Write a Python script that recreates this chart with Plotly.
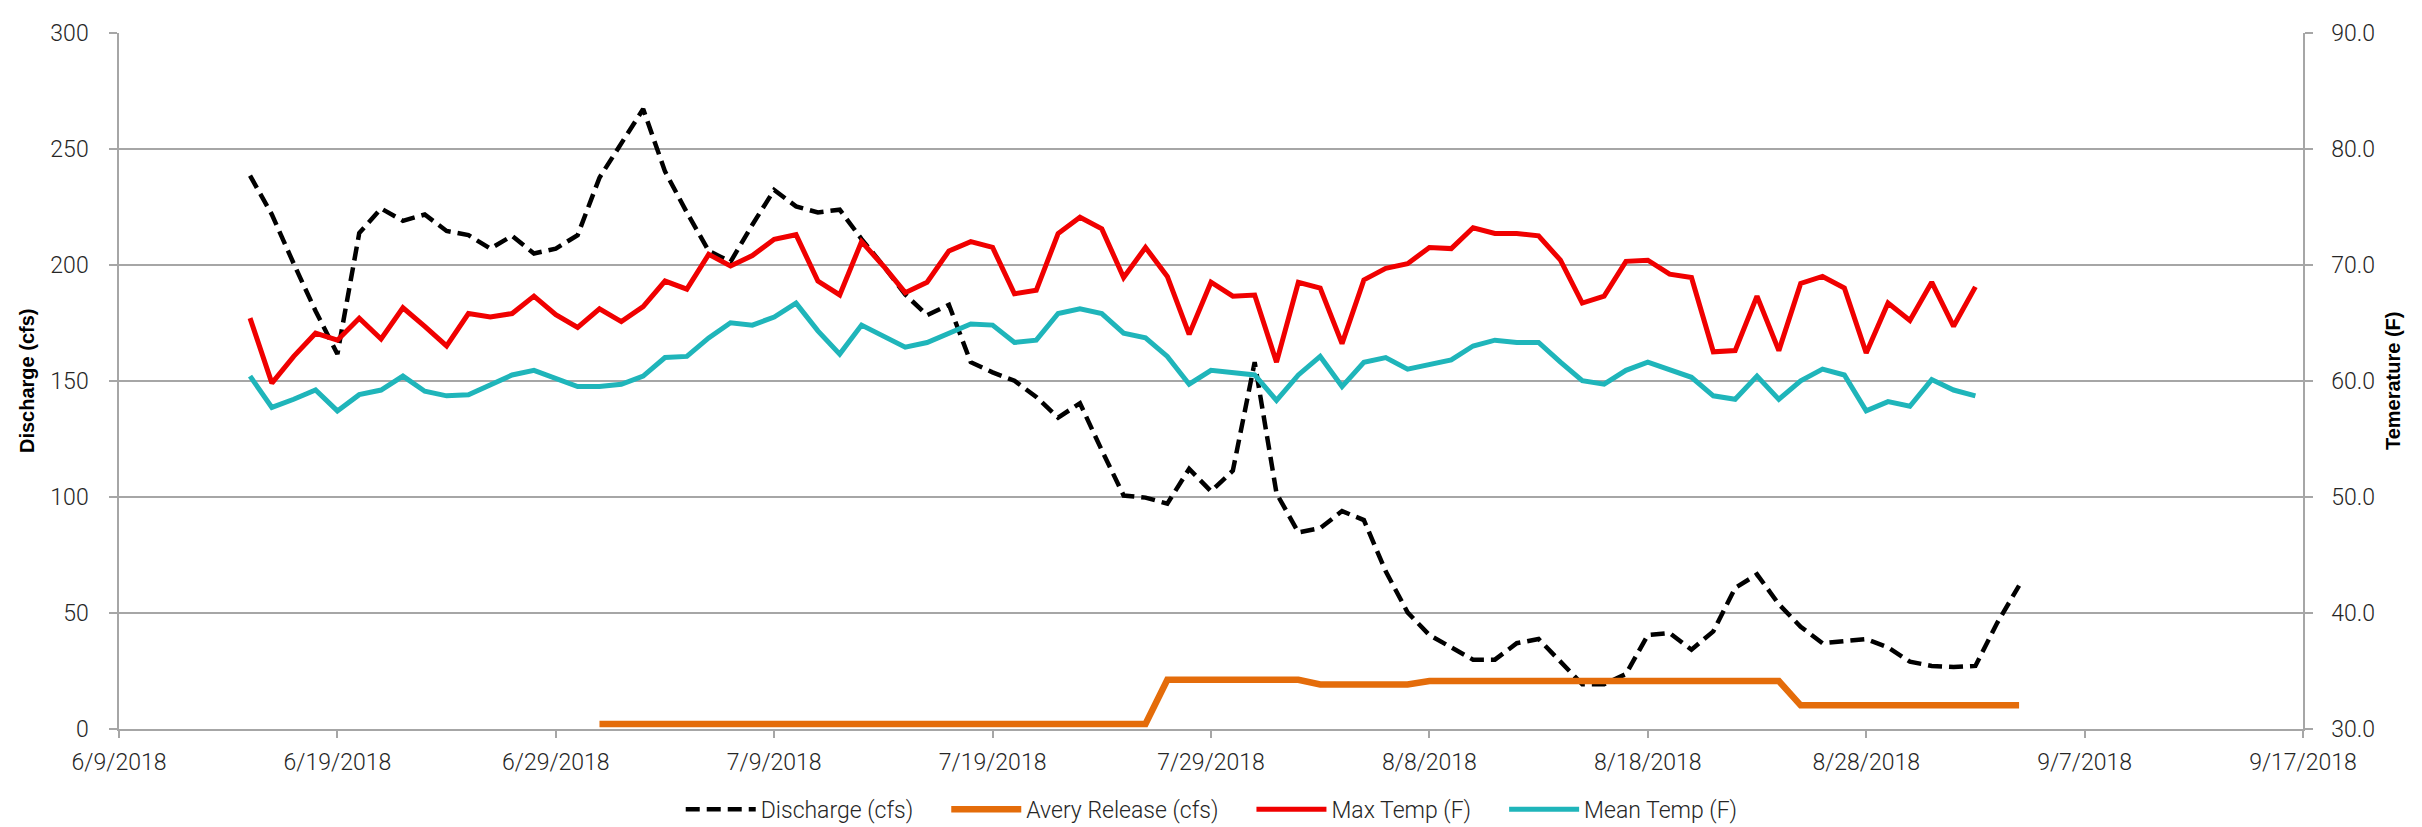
import pandas as pd
import plotly.graph_objects as go

# ---------------- data ----------------
discharge_start = "2018-06-15"
discharge_cfs = [
    238.5, 221.7, 200.5, 180.1, 161.5, 213.7, 224.3, 219.0, 221.7, 214.6,
    212.8, 207.0, 212.5, 204.9, 207.0, 212.8,                      # June 15-30
    237.6, 252.7, 267.2, 240.3, 222.6, 206.0, 201.3, 217.3, 232.3, 225.2,
    222.6, 223.8, 211.1, 199.6, 187.2, 178.3, 182.8, 158.0, 153.6, 150.0,
    143.0, 134.1, 140.3, 120.0, 100.5, 99.6, 97.0, 112.0, 102.3, 111.2,
    158.0,                                                          # July
    101.4, 84.6, 86.4, 93.8, 89.9, 67.8, 50.1, 40.3, 35.0, 29.7,
    29.7, 36.8, 38.6, 28.8, 19.1, 19.1, 23.5, 40.3, 41.2, 34.0,
    41.9, 60.6, 66.5, 53.6, 43.9, 36.8, 37.7, 38.6, 35.0, 28.8,
    27.0,                                                           # August
    26.5, 27.0, 45.6, 61.6,                                         # Sep 1-4
]

release_start = "2018-07-01"
avery_release_cfs = (
    [2] * 26 +        # Jul 1 - Jul 26
    [21] * 7 +        # Jul 27 - Aug 2
    [19] * 5 +        # Aug 3 - Aug 7
    [20.5] * 17 +     # Aug 8 - Aug 24
    [10] * 11         # Aug 25 - Sep 4
)

temp_start = "2018-06-15"
max_temp_f = [
    65.4, 59.8, 62.1, 64.1, 63.5, 65.4, 63.6, 66.3, 64.7, 63.0,
    65.8, 65.5, 65.8, 67.3, 65.7, 64.6,
    66.2, 65.1, 66.4, 68.6, 67.9, 70.9, 69.9, 70.8, 72.2, 72.6,
    68.6, 67.4, 72.0, 69.9, 67.6, 68.5, 71.2, 72.0, 71.5, 67.5,
    67.8, 72.7, 74.1, 73.1, 68.9, 71.5, 69.0, 64.0, 68.5, 67.3,
    67.4,
    61.6, 68.5, 68.0, 63.2, 68.7, 69.7, 70.1, 71.5, 71.4, 73.2,
    72.7, 72.7, 72.5, 70.4, 66.7, 67.3, 70.3, 70.4, 69.2, 68.9,
    62.5, 62.6, 67.3, 62.6, 68.4, 69.0, 68.0, 62.4, 66.7, 65.2,
    68.5,
    64.7, 68.1,
]
mean_temp_f = [
    60.4, 57.7, 58.4, 59.2, 57.4, 58.8, 59.2, 60.4, 59.1, 58.7,
    58.8, 59.7, 60.5, 60.9, 60.2, 59.5,
    59.5, 59.7, 60.4, 62.0, 62.1, 63.7, 65.0, 64.8, 65.5, 66.7,
    64.3, 62.3, 64.8, 63.9, 62.9, 63.3, 64.1, 64.9, 64.8, 63.3,
    63.5, 65.8, 66.2, 65.8, 64.1, 63.7, 62.1, 59.7, 60.9, 60.7,
    60.5,
    58.3, 60.5, 62.1, 59.5, 61.6, 62.0, 61.0, 61.4, 61.8, 63.0,
    63.5, 63.3, 63.3, 61.6, 60.0, 59.7, 60.9, 61.6, 60.9, 60.3,
    58.7, 58.4, 60.4, 58.4, 60.0, 61.0, 60.5, 57.4, 58.2, 57.8,
    60.1,
    59.2, 58.7,
]

x_tick_dates = ["2018-06-09", "2018-06-19", "2018-06-29", "2018-07-09",
                "2018-07-19", "2018-07-29", "2018-08-08", "2018-08-18",
                "2018-08-28", "2018-09-07", "2018-09-17"]
x_tick_labels = ["6/9/2018", "6/19/2018", "6/29/2018", "7/9/2018",
                 "7/19/2018", "7/29/2018", "8/8/2018", "8/18/2018",
                 "8/28/2018", "9/7/2018", "9/17/2018"]

discharge_dates = pd.date_range(discharge_start, periods=len(discharge_cfs), freq="D")
release_dates = pd.date_range(release_start, periods=len(avery_release_cfs), freq="D")
temp_dates = pd.date_range(temp_start, periods=len(max_temp_f), freq="D")

# ---------------- style ----------------
FONT = "Roboto, Liberation Sans, Arial, sans-serif"
GRID = "#a6a6a6"
TXT = "#262626"
PAD = "\u00a0" * 5   # extra spacing between legend entries

fig = go.Figure()
fig.add_trace(go.Scatter(x=discharge_dates, y=discharge_cfs, mode="lines",
                         name="Discharge (cfs)" + PAD,
                         line=dict(color="black", width=4.5, dash="14px,7px")))
fig.add_trace(go.Scatter(x=release_dates, y=avery_release_cfs, mode="lines",
                         name="Avery Release (cfs)" + PAD,
                         line=dict(color="#E46C0A", width=6.5)))
fig.add_trace(go.Scatter(x=temp_dates, y=max_temp_f, mode="lines",
                         name="Max Temp (F)" + PAD, yaxis="y2",
                         line=dict(color="#F00000", width=5)))
fig.add_trace(go.Scatter(x=temp_dates, y=mean_temp_f, mode="lines",
                         name="Mean Temp (F)", yaxis="y2",
                         line=dict(color="#1FB5BA", width=5)))

fig.update_layout(
    width=2422, height=827,
    margin=dict(l=111, r=127, t=20, b=105),
    paper_bgcolor="white", plot_bgcolor="white",
    font=dict(family=FONT, size=23, color=TXT, weight=300),
    showlegend=True,
    legend=dict(orientation="h", xref="container", x=0.497, xanchor="center",
                yref="container", y=0.031, yanchor="middle",
                itemwidth=70, font=dict(family=FONT, size=23, color=TXT, weight=300),
                traceorder="normal", tracegroupgap=0, itemclick=False),
    xaxis=dict(
        type="date",
        range=[x_tick_dates[0], x_tick_dates[-1]],
        tickmode="array", tickvals=x_tick_dates, ticktext=x_tick_labels,
        showgrid=False, showline=True, linecolor=GRID, linewidth=1.5,
        ticks="outside", ticklen=8, tickcolor=GRID, tickwidth=1.5,
        ticklabelstandoff=4,
        zeroline=False,
    ),
    yaxis=dict(
        range=[0, 300], tickmode="linear", tick0=0, dtick=50,
        showgrid=True, gridcolor=GRID, gridwidth=1.5,
        showline=True, linecolor=GRID, linewidth=1.5,
        ticks="outside", ticklen=8, tickcolor=GRID, tickwidth=1.5,
        ticklabelstandoff=16,
        zeroline=False,
        title=dict(text="<b>Discharge (cfs)</b>", standoff=10,
                   font=dict(family="Liberation Sans, Arial, sans-serif",
                             size=20, color="black")),
    ),
    yaxis2=dict(
        overlaying="y", side="right",
        range=[30, 90], tickmode="linear", tick0=30, dtick=10,
        tickformat=".1f",
        showgrid=False,
        showline=True, linecolor=GRID, linewidth=1.5,
        ticks="outside", ticklen=8, tickcolor=GRID, tickwidth=1.5,
        ticklabelstandoff=14,
        zeroline=False,
        title=dict(text="<b>Temerature (F)</b>", standoff=12,
                   font=dict(family="Liberation Sans, Arial, sans-serif",
                             size=20, color="black")),
    ),
)

fig.write_html("out.html")
